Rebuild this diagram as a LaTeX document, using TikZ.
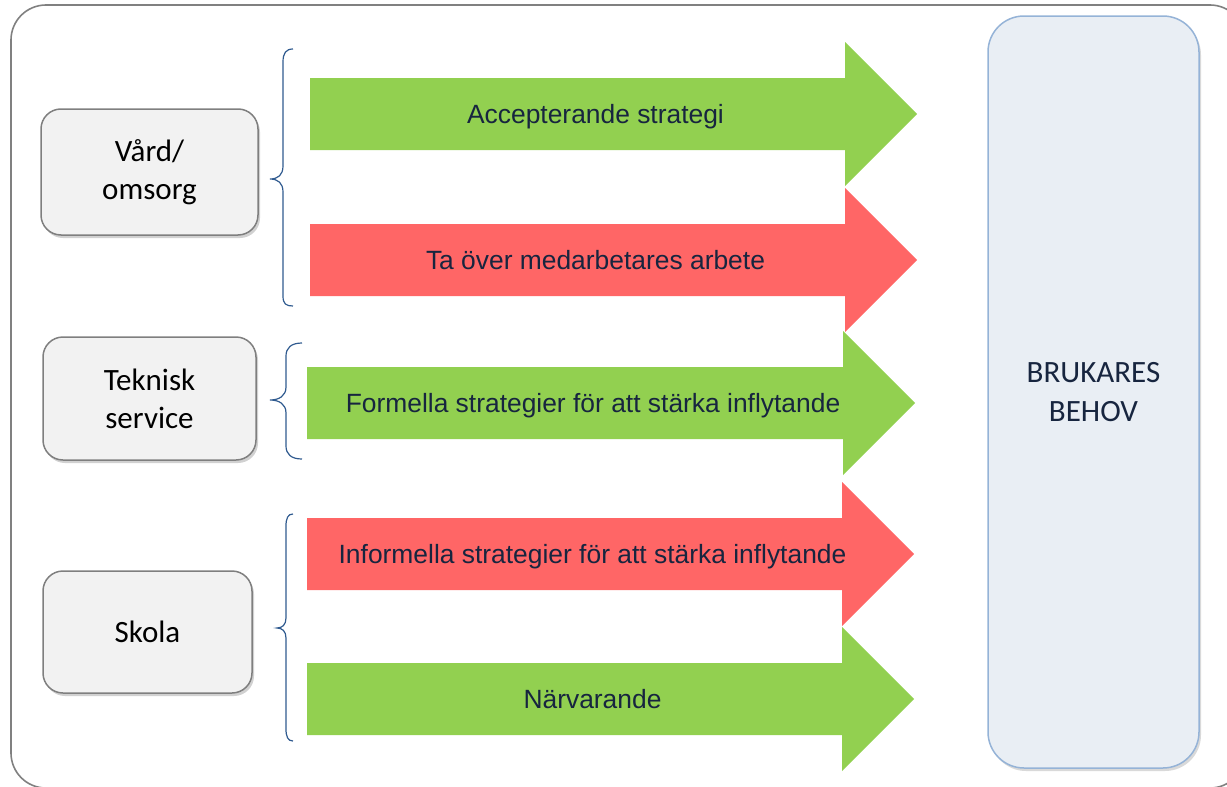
\documentclass[tikz,border=0pt]{standalone}
\usepackage{fontspec}
\setmainfont{Carlito}
\newfontfamily\arialfont{Liberation Sans}
\usetikzlibrary{shadows}
\definecolor{agreen}{HTML}{92D050}
\definecolor{ared}{HTML}{FF6666}
\definecolor{navy}{HTML}{17253F}
\definecolor{framegray}{HTML}{808080}
\definecolor{boxfill}{HTML}{F2F2F2}
\definecolor{boxedge}{HTML}{7F7F7F}
\definecolor{rfill}{HTML}{E9EEF4}
\definecolor{redge}{HTML}{95B3D7}
\definecolor{bracecol}{HTML}{2F5A8F}
\tikzset{
  framestyle/.style={draw=framegray, line width=1.6, rounded corners=35},
  sector/.style={draw=boxedge, fill=boxfill, line width=1.5, rounded corners=20,
    align=center, inner sep=0pt, outer sep=0pt, text=black,
    font=\fontsize{31}{38}\selectfont,
    drop shadow={shadow xshift=2pt, shadow yshift=-3pt, opacity=0.3, fill=black!60}},
  needbox/.style={draw=redge, fill=rfill, line width=1.5, rounded corners=36,
    align=center, inner sep=0pt, outer sep=0pt, text=navy,
    font=\fontsize{31}{39}\selectfont,
    drop shadow={shadow xshift=2pt, shadow yshift=-3pt, opacity=0.25, fill=black!60}},
  arrowtext/.style={anchor=base, inner sep=0pt, text=navy,
    font=\arialfont\fontsize{26.4}{32}\selectfont},
  bracestyle/.style={draw=bracecol, line width=1.2},
  greenarrow/.style={fill=agreen},
  redarrow/.style={fill=ared}
}
\begin{document}
\begin{tikzpicture}[x=1pt,y=-1pt]
\useasboundingbox (0,0) rectangle (1227,787);
\begin{scope}
\clip (0,0) rectangle (1227,787);
\draw[framestyle] (11,5) rectangle (1245,788);
\end{scope}

% left sector boxes
\node[sector, minimum width=217, minimum height=126] (vard) at (149.5,172) {Vård/\\omsorg};
\node[sector, minimum width=213, minimum height=123] (teknisk) at (149.5,398.5) {Teknisk\\service};
\node[sector, minimum width=209, minimum height=122] (skola) at (147.5,632) {Skola};

% right box
\node[needbox, minimum width=211, minimum height=752] (behov) at (1093.5,392) {BRUKARES\\BEHOV};

% braces
\draw[bracestyle] (293,49) .. controls (286,49) and (283,53) .. (283,62) -- (283,166)
  .. controls (283,175) and (278,179) .. (270,179)
  .. controls (278,179) and (283,183) .. (283,192) -- (283,296)
  .. controls (283,304) and (286,306) .. (293,306);
\draw[bracestyle] (302,343) .. controls (291,343) and (286,348) .. (286,356) -- (286,387)
  .. controls (286,396) and (279,400) .. (270,400)
  .. controls (279,400) and (286,404) .. (286,413) -- (286,446)
  .. controls (286,454) and (291,459) .. (302,459);
\draw[bracestyle] (293,514) .. controls (288,514) and (286,518) .. (286,526) -- (286,618)
  .. controls (286,625) and (282,628) .. (277,628)
  .. controls (282,628) and (286,631) .. (286,638) -- (286,729)
  .. controls (286,737) and (288,741) .. (293,741);

% arrows
\fill[greenarrow] (310,78) -- (845,78) -- (845,42) -- (917,114) -- (845,186) -- (845,150) -- (310,150) -- cycle;
\node[arrowtext] (a1) at (595.5,123.5) {Accepterande strategi};

\fill[redarrow] (310,224) -- (845,224) -- (845,188) -- (917,260) -- (845,332) -- (845,296) -- (310,296) -- cycle;
\node[arrowtext] (a2) at (595.5,269.5) {Ta över medarbetares arbete};

\fill[greenarrow] (307,367) -- (843,367) -- (843,331) -- (915,403) -- (843,475) -- (843,439) -- (307,439) -- cycle;
\node[arrowtext] (a3) at (593,412.5) {Formella strategier för att stärka inflytande};

\fill[redarrow] (307,518) -- (842,518) -- (842,482) -- (914,554) -- (842,626) -- (842,590) -- (307,590) -- cycle;
\node[arrowtext] (a4) at (592.5,563.5) {Informella strategier för att stärka inflytande};

\fill[greenarrow] (307,663) -- (842,663) -- (842,627) -- (914,699) -- (842,771) -- (842,735) -- (307,735) -- cycle;
\node[arrowtext] (a5) at (592.5,708.5) {Närvarande};
\end{tikzpicture}
\end{document}
